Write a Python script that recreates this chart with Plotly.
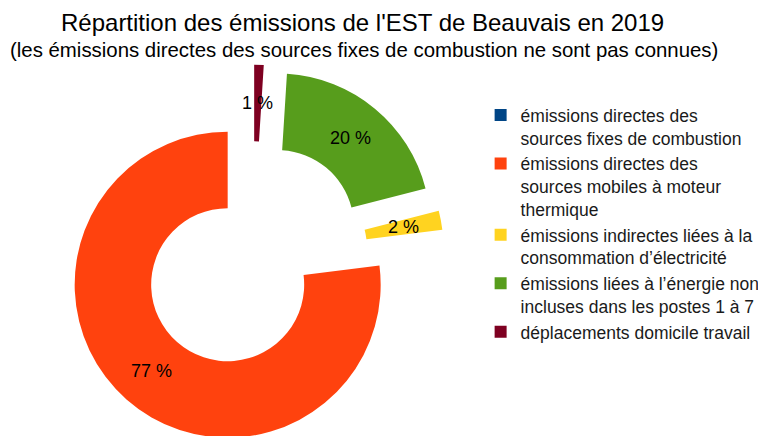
import math

import plotly.graph_objects as go

# ─── Data ────────────────────────────────────────────────────────────

labels = [
    "émissions directes des<br>sources fixes de combustion",
    "émissions directes des<br>sources mobiles à moteur<br>thermique",
    "émissions indirectes liées à la<br>consommation d’électricité",
    "émissions liées à l’énergie non<br>incluses dans les postes 1 à 7",
    "déplacements domicile travail",
]
shares = [0, 77, 2, 20, 1]
slice_text = ["", "77 %", "2 %", "20 %", "1 %"]
colors = ["#004586", "#ff420e", "#ffd320", "#579d1c", "#7e0021"]

FONT = "Liberation Sans, Arial, sans-serif"

# figure is slightly taller than the window; the page body adds an 8px margin
W, H = 766, 450
HOLE = 0.5
PULL = 0.25
DOM_X = [0.0587, 0.5809]
DOM_Y = [0.0239, 0.8739]

fig = go.Figure(
    go.Pie(
        labels=labels,
        values=shares,
        textinfo="none",
        sort=False,
        direction="counterclockwise",
        rotation=0,
        hole=HOLE,
        pull=PULL,
        marker=dict(colors=colors, line=dict(width=0)),
        domain=dict(x=DOM_X, y=DOM_Y),
        hoverinfo="label+percent",
    )
)

# ─── Slice labels at the middle of each (pulled) ring sector ─────────

cx = (DOM_X[0] + DOM_X[1]) / 2
cy = (DOM_Y[0] + DOM_Y[1]) / 2
radius = min((DOM_X[1] - DOM_X[0]) * W, (DOM_Y[1] - DOM_Y[0]) * H) / 2 / (1 + PULL)
dist = radius * (PULL + (1 + HOLE) / 2)
total = sum(shares)
cum = 0
for share, txt in zip(shares, slice_text):
    mid = math.radians(90 + (cum + share / 2) / total * 360)
    cum += share
    if not txt:
        continue
    fig.add_annotation(
        x=cx + dist * math.cos(mid) / W,
        y=cy + dist * math.sin(mid) / H,
        xref="paper",
        yref="paper",
        xanchor="center",
        yanchor="middle",
        text=txt,
        showarrow=False,
        font=dict(size=18, color="#000000"),
    )

# ─── Title ───────────────────────────────────────────────────────────

fig.add_annotation(
    x=354 / W, y=1 - 15 / H, xref="paper", yref="paper",
    xanchor="center", yanchor="middle",
    text="Répartition des émissions de l'EST de Beauvais en 2019",
    showarrow=False, font=dict(size=24, color="#000000"),
)
fig.add_annotation(
    x=356 / W, y=1 - 42 / H, xref="paper", yref="paper",
    xanchor="center", yanchor="middle",
    text="(les émissions directes des sources fixes de combustion ne sont pas connues)",
    showarrow=False, font=dict(size=20.4, color="#000000"),
)

fig.update_layout(
    width=W,
    height=H,
    margin=dict(l=0, r=0, t=0, b=0),
    paper_bgcolor="white",
    font=dict(family=FONT, color="#000000"),
    legend=dict(
        x=0.617,
        y=0.802,
        xanchor="left",
        yanchor="top",
        valign="top",
        font=dict(size=17.5, color="#1a1a1a"),
        itemwidth=30,
    ),
)

fig.write_html("out.html")
